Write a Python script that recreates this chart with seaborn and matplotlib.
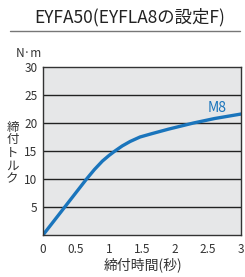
import numpy as np
import pandas as pd
import seaborn as sns
import matplotlib
matplotlib.use("Agg")
import matplotlib.pyplot as plt

# values (torque vs. tightening time)
time_s = [0, 0.33, 0.66, 0.78, 0.9, 1.0, 1.09, 1.2, 1.32, 1.47, 1.65, 1.9, 2.28, 2.6, 3.0]
torque = [0, 5, 10, 11.7, 13.2, 14.2, 15.0, 15.9, 16.7, 17.5, 18.1, 18.9, 20.0, 20.8, 21.6]
series_name = "M8"
x_ticks = [0, 0.5, 1, 1.5, 2, 2.5, 3]
x_tick_labels = ["0", "0.5", "1", "1.5", "2", "2.5", "3"]
y_ticks = [5, 10, 15, 20, 25, 30]

title = "EYFA50(EYFLA8の設定F)"
unit = "N·m"
ylabel = "締\n付\nト\nル\nク"
xlabel = "締付時間(秒)"

sns.set_style("white")
plt.rcParams["font.family"] = ["Noto Sans CJK JP", "DejaVu Sans"]

W, H = 245, 277
fig = plt.figure(figsize=(W / 100, H / 100), dpi=100)
ax = fig.add_axes([43 / W, 1 - 235 / H, 198 / W, 168 / H])
ax.set_facecolor("#e6e7e8")

df = pd.DataFrame({"time": time_s, "torque": torque})
blue = "#1a75bc"
sns.lineplot(data=df, x="time", y="torque", ax=ax, color=blue, linewidth=2.4)

ax.set_xlim(0, 3)
ax.set_ylim(0, 30)
ax.set_xticks(x_ticks)
ax.set_xticklabels(x_tick_labels)
ax.set_yticks(y_ticks)
for v in y_ticks[:-1]:
    ax.axhline(v, color="#222222", linewidth=1.0, zorder=1)
ax.tick_params(axis="x", direction="in", length=3, width=0.8, color="#444444",
               labelsize=8.5, pad=6, labelcolor="#333333")
ax.tick_params(axis="y", length=0, labelsize=8.5, pad=4, labelcolor="#333333")
for s in ax.spines.values():
    s.set_color("#333333")
    s.set_linewidth(1.0)
ax.set_xlabel("")
ax.set_ylabel("")

ax.text(2.64, 22.7, series_name, color=blue, fontsize=10, ha="center", va="center")

fig.text(130 / W, 1 - 17 / H, title, ha="center", va="center", fontsize=12.5, color="#222222")
fig.add_artist(plt.Line2D([10 / W, 240 / W], [1 - 31 / H] * 2, color="#777777", linewidth=1.0))
fig.text(29 / W, 1 - 53 / H, unit, ha="center", va="center", fontsize=8.5, color="#333333")
fig.text(12.5 / W, 1 - 153 / H, ylabel, ha="center", va="center", fontsize=9,
         color="#333333", linespacing=1.0)
fig.text(143 / W, 1 - 265 / H, xlabel, ha="center", va="center", fontsize=10, color="#333333")

fig.savefig("out.png", dpi=100)
